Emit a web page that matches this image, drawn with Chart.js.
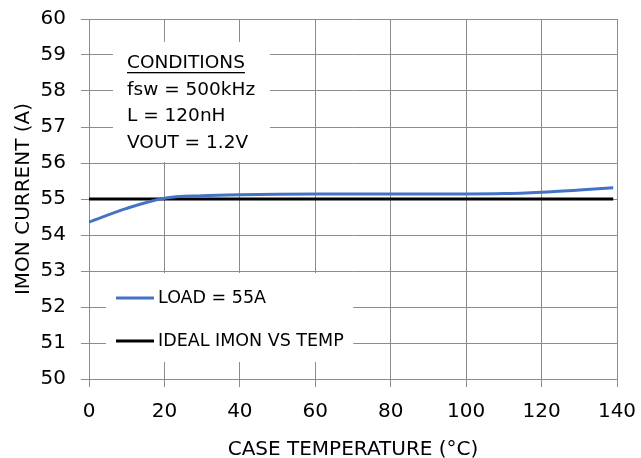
<!DOCTYPE html>
<html>
<head>
<meta charset="utf-8">
<script src="https://cdn.jsdelivr.net/npm/chart.js@4"></script>
<style>
	html, body { margin: 0; padding: 0; background: #fff; }
	#wrap { width: 641px; height: 458px; }
</style>
</head>
<body>
<div id="wrap"><canvas id="imonChart" width="641" height="458"></canvas></div>
<script>
const temps = [0, 10, 20, 30, 40, 60, 80, 100, 110, 120, 130, 139];
const loadValues = [54.36, 54.74, 55.02, 55.09, 55.12, 55.14, 55.14, 55.14, 55.15, 55.19, 55.25, 55.31];
const idealTemps = [0, 139];
const idealValues = [55, 55];
const conditions = ['CONDITIONS', 'fsw = 500kHz', 'L = 120nH', 'VOUT = 1.2V'];

const fontFamily = '"DejaVu Sans", Verdana, sans-serif';
const gridColor = '#8c8c8c';

// white boxes with the conditions note and legend inside the plot
const notesPlugin = {
	id: 'notes',
	afterDatasetsDraw(chart) {
		const ctx = chart.ctx;
		const a = chart.chartArea;
		ctx.save();
		// conditions box
		ctx.fillStyle = '#fff';
		ctx.fillRect(a.left + 24, a.top + 23, 157, 120);
		ctx.fillStyle = '#000';
		ctx.font = '18.5px ' + fontFamily;
		ctx.textBaseline = 'middle';
		ctx.textAlign = 'left';
		const tx = a.left + 38;
		conditions.forEach((t, i) => {
			const ty = a.top + 44 + i * 26.8;
			ctx.fillText(t, tx, ty);
			if (i === 0) {
				const w = ctx.measureText(t).width;
				ctx.fillRect(tx, ty + 9, w, 1.3);
			}
		});
		// legend box
		ctx.fillStyle = '#fff';
		ctx.fillRect(a.left + 17, a.top + 254, 247, 89);
		ctx.font = '17.5px ' + fontFamily;
		chart.data.datasets.forEach((ds, i) => {
			const ly = a.top + 279 + i * 43;
			const lx = a.left + 27;
			ctx.strokeStyle = ds.borderColor;
			ctx.lineWidth = 3;
			ctx.beginPath();
			ctx.moveTo(lx, ly);
			ctx.lineTo(lx + 38, ly);
			ctx.stroke();
			ctx.fillStyle = '#000';
			ctx.fillText(ds.label, lx + 42, ly);
		});
		ctx.restore();
	}
};

new Chart('imonChart', {
	type: 'line',
	data: {
		datasets: [
			{
				label: 'LOAD = 55A',
				data: temps.map((t, i) => ({ x: t, y: loadValues[i] })),
				borderColor: '#4472c4',
				borderWidth: 3,
				pointRadius: 0,
				cubicInterpolationMode: 'monotone',
				fill: false
			},
			{
				label: 'IDEAL IMON VS TEMP',
				data: idealTemps.map((t, i) => ({ x: t, y: idealValues[i] })),
				borderColor: '#000',
				borderWidth: 3,
				pointRadius: 0,
				fill: false
			}
		]
	},
	options: {
		responsive: false,
		animation: false,
		layout: { padding: { top: 19, right: 24, left: 0, bottom: 0 } },
		plugins: {
			legend: { display: false },
			tooltip: { enabled: false }
		},
		scales: {
			x: {
				type: 'linear',
				min: 0,
				max: 140,
				ticks: { stepSize: 20, color: '#000', padding: 13, font: { family: fontFamily, size: 20 } },
				grid: { color: gridColor, tickLength: 8, tickColor: gridColor },
				border: { color: gridColor },
				title: { display: true, text: 'CASE TEMPERATURE (°C)', color: '#000', padding: 0, font: { family: fontFamily, size: 20, lineHeight: 0.8 } },
				afterFit(s) { s.height = 79; s.paddingRight = 0; s.paddingLeft = 0; }
			},
			y: {
				min: 50,
				max: 60,
				ticks: { stepSize: 1, color: '#000', padding: 15, font: { family: fontFamily, size: 20 } },
				grid: { color: gridColor, tickLength: 8, tickColor: gridColor },
				border: { color: gridColor },
				title: { display: true, text: 'IMON CURRENT (A)', color: '#000', padding: { top: 16, bottom: 0 }, font: { family: fontFamily, size: 20, lineHeight: 0.8 } },
				afterFit(s) { s.width = 89; s.paddingTop = 0; s.paddingBottom = 0; }
			}
		}
	},
	plugins: [notesPlugin]
});
</script>
</body>
</html>
